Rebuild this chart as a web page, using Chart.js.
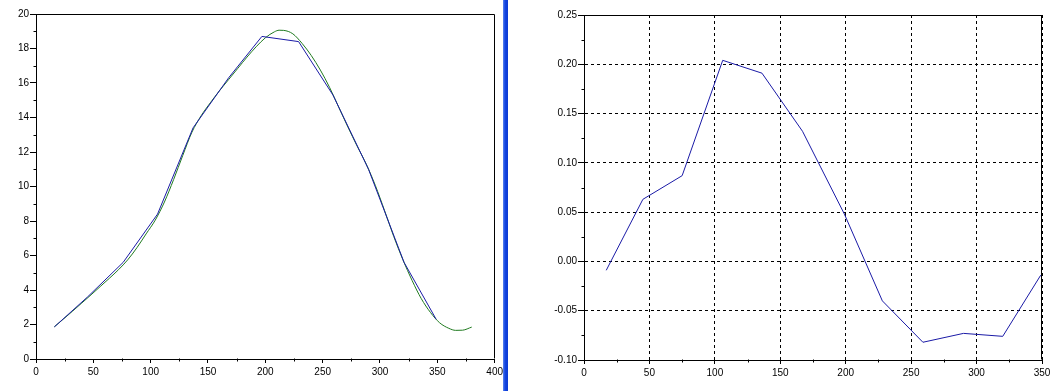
<!DOCTYPE html>
<html>
<head>
<meta charset="utf-8">
<script src="https://cdn.jsdelivr.net/npm/chart.js@4.4.1/dist/chart.umd.min.js"></script>
<style>
  html, body { margin: 0; padding: 0; background: #fff; }
  body { width: 1057px; height: 391px; position: relative; overflow: hidden; }
  #left { position: absolute; left: 0; top: 0; width: 506px; height: 391px; }
  #right { position: absolute; left: 508px; top: 0; width: 549px; height: 391px; }
  #splitter {
    position: absolute; left: 503px; top: 0; width: 5px; height: 391px; z-index: 2;
    background: linear-gradient(to right, #5f88ee, #1446e2 40%, #0c3ad2);
  }
</style>
</head>
<body>
<div id="left"><canvas id="fitChart"></canvas></div>
<div id="splitter"></div>
<div id="right"><canvas id="residChart"></canvas></div>

<script>
// ---------- DATA ----------
// measured samples (blue, left panel)
const sampleX  = [16, 45, 76, 106, 137, 168, 197, 229, 259, 290, 321, 349];
const measured = [1.86, 3.6, 5.6, 8.4, 13.4, 16.3, 18.7, 18.4, 15.3, 11.0, 5.6, 2.3];

// fitted curve (green, left panel)
const fitX = [16, 24, 32, 40, 48, 56, 64, 72, 80, 88, 96, 104, 112, 120, 128, 136, 144, 152, 160,
              168, 176, 184, 192, 200, 208, 212, 216, 224, 232, 240, 248, 256, 264, 272, 280, 288,
              296, 304, 312, 320, 328, 336, 344, 352, 360, 366, 372, 380];
const fitY = [1.87, 2.32, 2.78, 3.25, 3.72, 4.2, 4.68, 5.18, 5.75, 6.45, 7.25, 8.05, 9.1, 10.4, 11.8,
              13.15, 14.1, 14.85, 15.55, 16.2, 16.85, 17.5, 18.1, 18.62, 18.97, 19.06, 19.05, 18.85,
              18.3, 17.6, 16.75, 15.75, 14.6, 13.45, 12.35, 11.3, 10.05, 8.6, 7.1, 5.75, 4.55, 3.5,
              2.7, 2.1, 1.78, 1.66, 1.67, 1.85];

// residuals (blue, right panel)
const residX   = [17, 45, 75, 106, 136, 167, 199, 228, 259, 290, 320, 349];
const residual = [-0.009, 0.063, 0.087, 0.204, 0.191, 0.132, 0.048, -0.040, -0.082, -0.073, -0.076, -0.014];

// axis ranges / tick steps
const leftX  = { min: 0, max: 400, step: 50, minor: 25 };
const leftY  = { min: 0, max: 20, step: 2, minor: 1 };
const rightX = { min: 0, max: 350, step: 50, minor: 25 };
const rightY = { min: -0.10, max: 0.25, step: 0.05, minor: 0.025 };

const BLUE = "#1a1aa6";
const GREEN = "#1f7a1f";
const tickFont = { family: "'Liberation Sans', Arial, sans-serif", size: 10 };

const toPoints = (xs, ys) => xs.map((x, i) => ({ x: x, y: ys[i] }));
const fmt2 = v => (Math.abs(v) < 1e-9 ? 0 : Number(v)).toFixed(2);

// box round the plot + short minor ticks between the major ones
const frameAndMinor = {
    id: "frameAndMinor",
    afterDraw(chart, args, opts) {
        const ctx = chart.ctx;
        const a = chart.chartArea;
        const sx = chart.scales.x, sy = chart.scales.y;
        const L = Math.round(a.left) + 0.5, R = Math.round(a.right) - 0.5;
        const T = Math.round(a.top) + 0.5, B = Math.round(a.bottom) - 0.5;

        ctx.save();
        ctx.strokeStyle = "#000";
        ctx.lineWidth = 1;
        ctx.setLineDash([]);
        ctx.beginPath();
        ctx.moveTo(L, T); ctx.lineTo(R, T); ctx.lineTo(R, B);
        ctx.stroke();

        ctx.beginPath();
        for (let v = sx.min + opts.xMinor; v < sx.max; v += opts.xMinor * 2) {
            const px = Math.round(sx.getPixelForValue(v)) + 0.5;
            ctx.moveTo(px, B); ctx.lineTo(px, B + 3);
        }
        for (let v = sy.min + opts.yMinor; v < sy.max; v += opts.yMinor * 2) {
            const py = Math.round(sy.getPixelForValue(v)) + 0.5;
            ctx.moveTo(L, py); ctx.lineTo(L - 3, py);
        }
        ctx.stroke();
        ctx.restore();
    }
};

function axis(range, opts) {
    return {
        type: "linear",
        min: range.min,
        max: range.max,
        ticks: {
            stepSize: range.step,
            color: "#000",
            font: tickFont,
            padding: opts.pad,
            maxRotation: 0,
            autoSkip: false,
            callback: opts.fmt
        },
        grid: {
            drawOnChartArea: opts.gridOn,
            color: "#000",
            lineWidth: 1,
            tickLength: opts.tick,
            tickColor: "#000",
            tickBorderDash: []
        },
        border: { display: true, color: "#000", width: 1, dash: opts.gridOn ? [3, 3] : [] },
        afterFit: opts.fit
    };
}

// ---------- LEFT: measured vs fit ----------
new Chart(document.getElementById("fitChart"), {
    type: "line",
    data: {
        datasets: [
            {
                label: "measured",
                data: toPoints(sampleX, measured),
                borderColor: BLUE,
                borderWidth: 1,
                pointRadius: 0,
                tension: 0
            },
            {
                label: "fit",
                data: toPoints(fitX, fitY),
                borderColor: GREEN,
                borderWidth: 1,
                pointRadius: 0,
                cubicInterpolationMode: "monotone"
            }
        ]
    },
    options: {
        responsive: true,
        maintainAspectRatio: false,
        animation: false,
        events: [],
        layout: { padding: { left: 0, right: 6, top: 14, bottom: 0 } },
        plugins: {
            legend: { display: false },
            tooltip: { enabled: false },
            frameAndMinor: { xMinor: leftX.minor, yMinor: leftY.minor }
        },
        scales: {
            x: axis(leftX, { pad: 3, tick: 4, gridOn: false, fmt: v => String(v), fit: s => { s.height = 32; } }),
            y: axis(leftY, { pad: 1, tick: 6, gridOn: false, fmt: v => String(v), fit: s => { s.width = 36; } })
        }
    },
    plugins: [frameAndMinor]
});

// ---------- RIGHT: residuals ----------
new Chart(document.getElementById("residChart"), {
    type: "line",
    data: {
        datasets: [{
            label: "residual",
            data: toPoints(residX, residual),
            borderColor: BLUE,
            borderWidth: 1,
            pointRadius: 0,
            tension: 0
        }]
    },
    options: {
        responsive: true,
        maintainAspectRatio: false,
        animation: false,
        events: [],
        layout: { padding: { left: 0, right: 15, top: 15, bottom: 0 } },
        plugins: {
            legend: { display: false },
            tooltip: { enabled: false },
            frameAndMinor: { xMinor: rightX.minor, yMinor: rightY.minor }
        },
        scales: {
            x: axis(rightX, { pad: 3, tick: 4, gridOn: true, fmt: v => String(v), fit: s => { s.height = 31; } }),
            y: axis(rightY, { pad: 1, tick: 6, gridOn: true, fmt: fmt2, fit: s => { s.width = 76; } })
        }
    },
    plugins: [frameAndMinor]
});
</script>
</body>
</html>
